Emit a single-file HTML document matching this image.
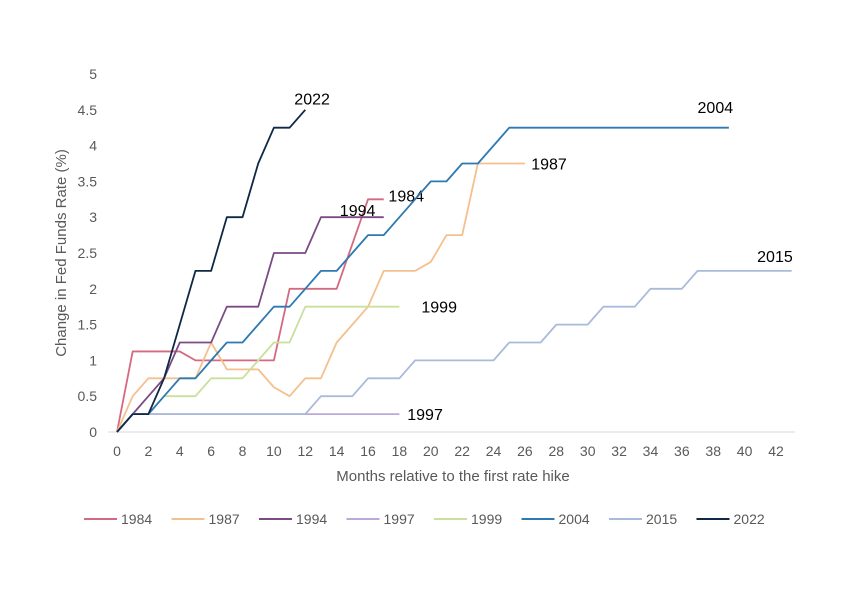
<!DOCTYPE html>
<html><head><meta charset="utf-8"><style>
body{margin:0;background:#fff;font-family:"Liberation Sans",sans-serif}
</style></head><body>
<svg id="chart" width="863" height="602" xmlns="http://www.w3.org/2000/svg"></svg>
<script>
const years=["1984","1987","1994","1997","1999","2004","2015","2022"];
const colors=["#d46a80","#f4c08d","#7b4b84","#bba8dc","#c9e09c","#2f79b1","#aabbd9","#0e2846"];
const s1984=[0,1.125,1.125,1.125,1.125,1,1,1,1,1,1,2,2,2,2,2.625,3.25,3.25];
const s1987=[0,0.5,0.75,0.75,0.75,0.75,1.25,0.875,0.875,0.875,0.625,0.5,0.75,0.75,1.25,1.5,1.75,2.25,2.25,2.25,2.375,2.75,2.75,3.75,3.75,3.75,3.75];
const s1994=[0,0.25,0.5,0.75,1.25,1.25,1.25,1.75,1.75,1.75,2.5,2.5,2.5,3,3,3,3,3];
const s1997=[0,0.25,0.25,0.25,0.25,0.25,0.25,0.25,0.25,0.25,0.25,0.25,0.25,0.25,0.25,0.25,0.25,0.25,0.25];
const s1999=[0,0.25,0.25,0.5,0.5,0.5,0.75,0.75,0.75,1,1.25,1.25,1.75,1.75,1.75,1.75,1.75,1.75,1.75];
const s2004=[0,0.25,0.25,0.5,0.75,0.75,1,1.25,1.25,1.5,1.75,1.75,2,2.25,2.25,2.5,2.75,2.75,3,3.25,3.5,3.5,3.75,3.75,4,4.25,4.25,4.25,4.25,4.25,4.25,4.25,4.25,4.25,4.25,4.25,4.25,4.25,4.25,4.25];
const s2015=[0,0.25,0.25,0.25,0.25,0.25,0.25,0.25,0.25,0.25,0.25,0.25,0.25,0.5,0.5,0.5,0.75,0.75,0.75,1,1,1,1,1,1,1.25,1.25,1.25,1.5,1.5,1.5,1.75,1.75,1.75,2,2,2,2.25,2.25,2.25,2.25,2.25,2.25,2.25];
const s2022=[0,0.25,0.25,0.75,1.5,2.25,2.25,3,3,3.75,4.25,4.25,4.5];
const series=[s1984,s1987,s1994,s1997,s1999,s2004,s2015,s2022];
const yTicks=[0,0.5,1,1.5,2,2.5,3,3.5,4,4.5,5];
const xTicks=[0,2,4,6,8,10,12,14,16,18,20,22,24,26,28,30,32,34,36,38,40,42];
const labelPos=[[17.3,3.3],[26.4,3.75],[14.2,3.1],[18.5,0.25],[19.4,1.75],[37.0,4.54],[40.8,2.46],[11.3,4.66]];
const X=m=>117+m*15.69, Y=v=>432-v*71.6;
const svg=document.getElementById('chart');
const NS="http://www.w3.org/2000/svg";
function el(t,a,txt){const e=document.createElementNS(NS,t);for(const k in a)e.setAttribute(k,a[k]);if(txt!==undefined)e.textContent=txt;svg.appendChild(e);return e;}
const axis=el('line',{x1:108,x2:795,y1:432,y2:432,stroke:'#d9d9d9','stroke-width':1});


yTicks.forEach(v=>{const t=el('text',{x:97,y:Y(v)+5,'text-anchor':'end','font-size':14,fill:'#595959'},String(v));

});
xTicks.forEach(v=>{const t=el('text',{x:X(v),y:456,'text-anchor':'middle','font-size':14,fill:'#595959'},String(v));

});
const xt=el('text',{x:453,y:481,'text-anchor':'middle','font-size':15,fill:'#595959'},'Months relative to the first rate hike');


const yt=el('text',{x:66,y:253,'text-anchor':'middle','font-size':15,fill:'#595959',transform:'rotate(-90 66 253)'},'Change in Fed Funds Rate (%)');


series.forEach((s,i)=>{
 const p=el('polyline',{points:s.map((v,m)=>X(m)+','+Y(v)).join(' '),fill:'none',stroke:colors[i],'stroke-width':1.8,'stroke-linejoin':'round'});
 
 
 const l=el('text',{x:X(labelPos[i][0]),y:Y(labelPos[i][1])-6+12,'font-size':16,fill:'#000'},years[i]);
 
 
});
years.forEach((y,i)=>{
 const lx=84+i*87.5;
 const g=el('line',{x1:lx,x2:lx+33,y1:519,y2:519,stroke:colors[i],'stroke-width':2});
 
 
 const t=el('text',{x:lx+37,y:524,'font-size':14,fill:'#595959'},y);
 
 
});
</script>
</body></html>
